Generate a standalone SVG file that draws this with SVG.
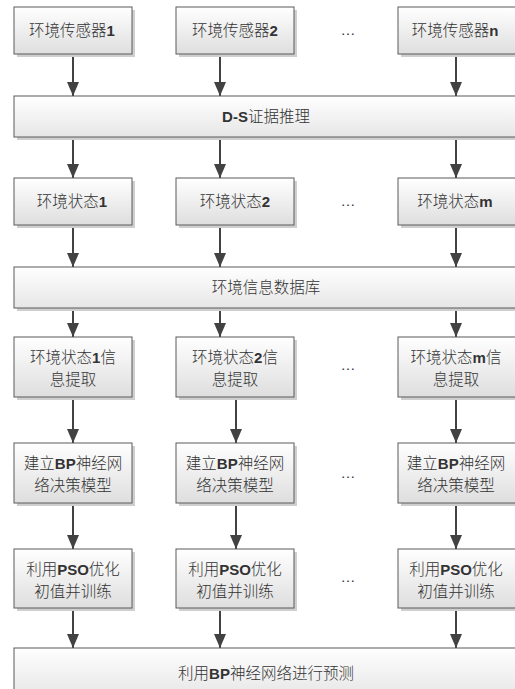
<svg xmlns="http://www.w3.org/2000/svg" width="515" height="689" viewBox="0 0 515 689">
<style>
.box{fill:url(#g1);stroke:#5a5a5a;stroke-width:1}
.wide{fill:url(#g2);stroke:#5a5a5a;stroke-width:1}
.sh{fill:#cfcfcf}
.t{font-family:"Noto Sans CJK SC","Noto Sans",sans-serif;font-size:15.5px;fill:#333;text-anchor:middle;font-weight:300}
.b{font-family:"Liberation Sans","Noto Sans",sans-serif;font-weight:bold;font-size:15px}
.dots{font-family:"Liberation Sans",sans-serif;font-size:15px;fill:#333;text-anchor:middle}
.c{fill:none;stroke:#424242;stroke-width:2;marker-end:url(#ah)}
</style>
<defs>
<linearGradient id="g1" x1="0" y1="0" x2="0" y2="1">
<stop offset="0" stop-color="#ffffff"/>
<stop offset="1" stop-color="#dedede"/>
</linearGradient>
<linearGradient id="g2" x1="0" y1="0" x2="0" y2="1">
<stop offset="0" stop-color="#ffffff"/>
<stop offset="1" stop-color="#e6e6e6"/>
</linearGradient>
<marker id="ah" markerUnits="userSpaceOnUse" markerWidth="14" markerHeight="12" viewBox="0 0 14 12" refX="14" refY="6" orient="auto">
<path d="M0,0 L14,6 L0,12 Z" fill="#424242"/>
</marker>
</defs>
<rect width="515" height="689" fill="#ffffff"/>

<g id="connectors">
<path class="c" d="M73,54 V96"/>
<path class="c" d="M220,54 V96"/>
<path class="c" d="M456,54 V96"/>
<path class="c" d="M73,137 V178"/>
<path class="c" d="M220,137 V178"/>
<path class="c" d="M456,137 V178"/>
<path class="c" d="M73,225 V267"/>
<path class="c" d="M220,225 V267"/>
<path class="c" d="M456,225 V267"/>
<path class="c" d="M73,308 V337"/>
<path class="c" d="M220,308 V337"/>
<path class="c" d="M456,308 V337"/>
<path class="c" d="M73,397 V443"/>
<path class="c" d="M220,397 H236 V443"/>
<path class="c" d="M456,397 V443"/>
<path class="c" d="M73,503 V549"/>
<path class="c" d="M220,503 H236 V549"/>
<path class="c" d="M456,503 V549"/>
<path class="c" d="M73,608 V648"/>
<path class="c" d="M220,608 V648"/>
<path class="c" d="M456,608 V648"/>
</g>

<g id="sensor1"><rect class="sh" x="17" y="10" width="118" height="47"/><rect class="box" x="14" y="7" width="118" height="47"/><text class="t" x="72" y="36">环境传感器<tspan class="b">1</tspan></text></g>
<g id="sensor2"><rect class="sh" x="179" y="10" width="118" height="47"/><rect class="box" x="176" y="7" width="118" height="47"/><text class="t" x="235" y="36">环境传感器<tspan class="b">2</tspan></text></g>
<g id="sensorn"><rect class="sh" x="401" y="10" width="118" height="47"/><rect class="box" x="398" y="7" width="118" height="47"/><text class="t" x="455" y="36">环境传感器<tspan class="b">n</tspan></text></g>
<text class="dots" x="348" y="35">…</text>

<g id="ds"><rect class="sh" x="17" y="99" width="504" height="41"/><rect class="wide" x="14" y="96" width="504" height="41"/><text class="t" x="266" y="122"><tspan class="b">D-S</tspan>证据推理</text></g>

<g id="state1"><rect class="sh" x="17" y="181" width="118" height="47"/><rect class="box" x="14" y="178" width="118" height="47"/><text class="t" x="72" y="207">环境状态<tspan class="b">1</tspan></text></g>
<g id="state2"><rect class="sh" x="179" y="181" width="118" height="47"/><rect class="box" x="176" y="178" width="118" height="47"/><text class="t" x="235" y="207">环境状态<tspan class="b">2</tspan></text></g>
<g id="statem"><rect class="sh" x="401" y="181" width="118" height="47"/><rect class="box" x="398" y="178" width="118" height="47"/><text class="t" x="455" y="207">环境状态<tspan class="b">m</tspan></text></g>
<text class="dots" x="348" y="206">…</text>

<g id="db"><rect class="sh" x="17" y="270" width="504" height="41"/><rect class="wide" x="14" y="267" width="504" height="41"/><text class="t" x="266" y="293">环境信息数据库</text></g>

<g id="extract1"><rect class="sh" x="17" y="340" width="118" height="60"/><rect class="box" x="14" y="337" width="118" height="60"/><text class="t" x="73" y="363">环境状态<tspan class="b">1</tspan>信</text><text class="t" x="73" y="385">息提取</text></g>
<g id="extract2"><rect class="sh" x="179" y="340" width="118" height="60"/><rect class="box" x="176" y="337" width="118" height="60"/><text class="t" x="235" y="363">环境状态<tspan class="b">2</tspan>信</text><text class="t" x="235" y="385">息提取</text></g>
<g id="extractm"><rect class="sh" x="401" y="340" width="118" height="60"/><rect class="box" x="398" y="337" width="118" height="60"/><text class="t" x="456" y="363">环境状态<tspan class="b">m</tspan>信</text><text class="t" x="456" y="385">息提取</text></g>
<text class="dots" x="348" y="370">…</text>

<g id="bp1"><rect class="sh" x="17" y="446" width="118" height="60"/><rect class="box" x="14" y="443" width="118" height="60"/><text class="t" x="73" y="469">建立<tspan class="b">BP</tspan>神经网</text><text class="t" x="73" y="491">络决策模型</text></g>
<g id="bp2"><rect class="sh" x="179" y="446" width="118" height="60"/><rect class="box" x="176" y="443" width="118" height="60"/><text class="t" x="235" y="469">建立<tspan class="b">BP</tspan>神经网</text><text class="t" x="235" y="491">络决策模型</text></g>
<g id="bpm"><rect class="sh" x="401" y="446" width="118" height="60"/><rect class="box" x="398" y="443" width="118" height="60"/><text class="t" x="456" y="469">建立<tspan class="b">BP</tspan>神经网</text><text class="t" x="456" y="491">络决策模型</text></g>
<text class="dots" x="348" y="478">…</text>

<g id="pso1"><rect class="sh" x="17" y="552" width="118" height="59"/><rect class="box" x="14" y="549" width="118" height="59"/><text class="t" x="73" y="575">利用<tspan class="b">PSO</tspan>优化</text><text class="t" x="73" y="597">初值并训练</text></g>
<g id="pso2"><rect class="sh" x="179" y="552" width="118" height="59"/><rect class="box" x="176" y="549" width="118" height="59"/><text class="t" x="235" y="575">利用<tspan class="b">PSO</tspan>优化</text><text class="t" x="235" y="597">初值并训练</text></g>
<g id="psom"><rect class="sh" x="401" y="552" width="118" height="59"/><rect class="box" x="398" y="549" width="118" height="59"/><text class="t" x="456" y="575">利用<tspan class="b">PSO</tspan>优化</text><text class="t" x="456" y="597">初值并训练</text></g>
<text class="dots" x="348" y="582">…</text>

<g id="predict"><rect class="wide" x="14" y="648" width="504" height="50"/><text class="t" x="266" y="679">利用<tspan class="b">BP</tspan>神经网络进行预测</text></g>
</svg>
